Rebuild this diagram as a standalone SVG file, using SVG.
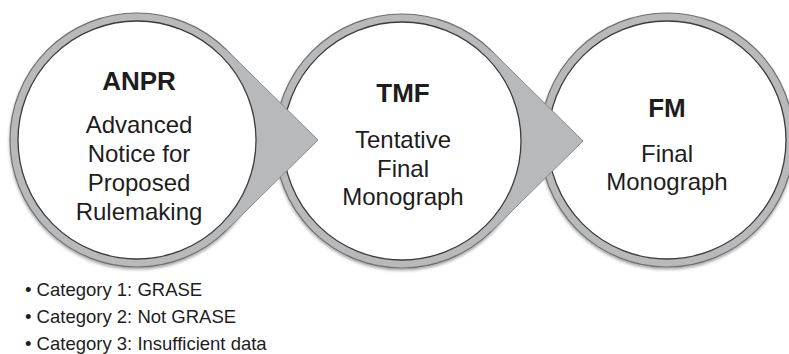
<svg xmlns="http://www.w3.org/2000/svg" width="789" height="354" viewBox="0 0 789 354">
<defs>
<filter id="sh" x="-10%" y="-10%" width="120%" height="125%">
<feDropShadow dx="0" dy="2" stdDeviation="1.8" flood-color="#000" flood-opacity="0.35"/>
</filter>
<style>
.ring{fill:#b8b9bb;stroke:#707070;stroke-width:1.2}
.inner{fill:#ffffff;stroke:#3c3c3c;stroke-width:1.3}
.tail{fill:#b8b9bb;stroke:none}
.tailedge{fill:none;stroke:#8a8a8a;stroke-width:1}
.t{font-family:"Liberation Sans",Arial,sans-serif;fill:#1d1d1d;text-anchor:middle}
.h{font-size:26px;font-weight:bold}
.b{font-size:24px}
.l{font-family:"Liberation Sans",Arial,sans-serif;fill:#1d1d1d;font-size:18.5px}
</style>
</defs>
<rect width="789" height="354" fill="#ffffff"/>
<g id="node-fm">
<circle class="ring" cx="667" cy="140" r="127" filter="url(#sh)"/>
<circle class="inner" cx="667" cy="140" r="119"/>
<text class="t h" x="667" y="117">FM</text>
<text class="t b" x="667" y="162">Final</text>
<text class="t b" x="667" y="190">Monograph</text>
</g>
<g id="node-tmf">
<circle class="ring" cx="402" cy="141" r="127" filter="url(#sh)"/>
<circle class="inner" cx="402" cy="141" r="119"/>
<text class="t h" x="403" y="102">TMF</text>
<text class="t b" x="403" y="148">Tentative</text>
<text class="t b" x="403" y="177">Final</text>
<text class="t b" x="403" y="205">Monograph</text>
</g>
<g id="node-anpr">
<circle class="ring" cx="137" cy="140" r="127" filter="url(#sh)"/>
<circle class="inner" cx="137" cy="140" r="119"/>
<text class="t h" x="139" y="90">ANPR</text>
<text class="t b" x="139" y="133">Advanced</text>
<text class="t b" x="139" y="162">Notice for</text>
<text class="t b" x="139" y="191">Proposed</text>
<text class="t b" x="139" y="220">Rulemaking</text>
</g>
<g id="connectors">
<path class="tail" d="M318,140 L226.1,49.5 L223.3,52.4 A123,123 0 0 1 223.3,227.6 L226.1,230.5 Z"/>
<path class="tailedge" d="M226.1,49.5 L318,140 L226.1,230.5"/>
<path class="tail" d="M583,141 L491.1,50.5 L488.3,53.4 A123,123 0 0 1 488.3,228.6 L491.1,231.5 Z"/>
<path class="tailedge" d="M491.1,50.5 L583,141 L491.1,231.5"/>
</g>
<g id="legend">
<text class="l" x="25" y="296">• Category 1: GRASE</text>
<text class="l" x="25" y="323">• Category 2: Not GRASE</text>
<text class="l" x="25" y="350">• Category 3: Insufficient data</text>
</g>
</svg>
